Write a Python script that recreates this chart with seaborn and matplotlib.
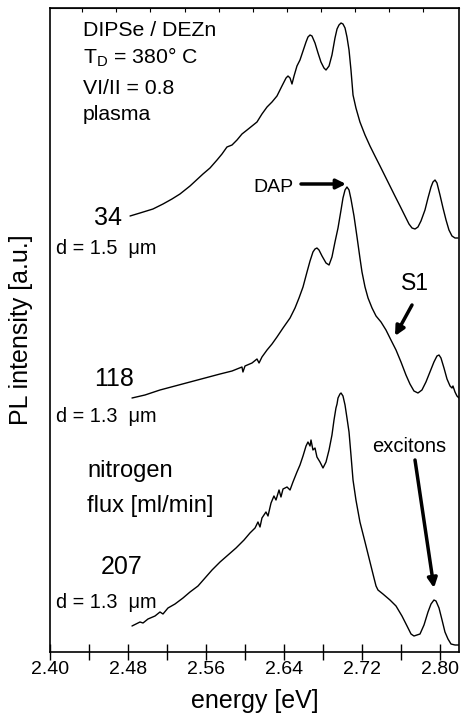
import numpy as np
import pandas as pd
import matplotlib
matplotlib.use("Agg")
import matplotlib.pyplot as plt
import seaborn as sns

sns.set_style("white")
plt.rcParams['font.family'] = ['Liberation Sans', 'DejaVu Sans']
plt.rcParams['mathtext.default'] = 'regular'
plt.rcParams['text.color'] = 'black'
plt.rcParams['axes.labelcolor'] = 'black'
plt.rcParams['xtick.color'] = 'black'

# ---- data (energy in eV, PL intensity in a.u. incl. vertical offset) ----
energy_34 = [2.4821, 2.4923, 2.5056, 2.5159, 2.5251, 2.5333, 2.5436, 2.5569, 2.5641, 2.5713,
             2.5764, 2.5815, 2.5867, 2.5918, 2.5969, 2.6021, 2.6072, 2.6123, 2.6174, 2.6226,
             2.6277, 2.6328, 2.6379, 2.6421, 2.6441, 2.6462, 2.6482, 2.6503, 2.6533, 2.6564,
             2.6595, 2.6626, 2.6646, 2.6667, 2.6687, 2.6718, 2.6749, 2.6779, 2.6810, 2.6831,
             2.6862, 2.6892, 2.6923, 2.6944, 2.6964, 2.6985, 2.7005, 2.7026, 2.7046, 2.7067,
             2.7087, 2.7108, 2.7138, 2.7179, 2.7231, 2.7282, 2.7333, 2.7385, 2.7436, 2.7487,
             2.7538, 2.7590, 2.7641, 2.7682, 2.7713, 2.7744, 2.7774, 2.7805, 2.7846, 2.7877,
             2.7908, 2.7928, 2.7949, 2.7969, 2.8000, 2.8031, 2.8062, 2.8092, 2.8123, 2.8154,
             2.8185]
pl_34 = [436, 439, 443, 448, 453, 458, 466, 478, 484, 492,
         498, 505, 507, 512, 518, 522, 526, 530, 538, 545,
         550, 556, 566, 574, 576, 574, 568, 576, 586, 592,
         601, 610, 615, 617, 616, 609, 599, 590, 584, 582,
         586, 597, 614, 623, 627, 629, 628, 624, 615, 602,
         582, 557, 544, 530, 517, 506, 496, 486, 476, 466,
         456, 446, 436, 428, 424, 423, 425, 431, 442, 454,
         465, 470, 472, 469, 457, 444, 432, 422, 416, 414,
         414]

energy_118 = [2.4841, 2.4974, 2.5128, 2.5282, 2.5436, 2.5590, 2.5744, 2.5867, 2.5969, 2.5979,
              2.6000, 2.6072, 2.6123, 2.6144, 2.6174, 2.6226, 2.6277, 2.6328, 2.6390, 2.6462,
              2.6513, 2.6554, 2.6595, 2.6636, 2.6667, 2.6697, 2.6718, 2.6738, 2.6759, 2.6790,
              2.6831, 2.6862, 2.6892, 2.6923, 2.6954, 2.6985, 2.7005, 2.7026, 2.7046, 2.7067,
              2.7087, 2.7118, 2.7149, 2.7179, 2.7200, 2.7231, 2.7262, 2.7303, 2.7344, 2.7395,
              2.7446, 2.7497, 2.7549, 2.7600, 2.7651, 2.7692, 2.7733, 2.7774, 2.7815, 2.7856,
              2.7897, 2.7938, 2.7969, 2.7990, 2.8010, 2.8041, 2.8072, 2.8103, 2.8123, 2.8133,
              2.8154, 2.8174, 2.8195]
pl_118 = [254, 257, 262, 266, 270, 274, 278, 281, 285, 280,
          286, 289, 293, 289, 295, 302, 308, 315, 324, 334,
          344, 354, 365, 380, 391, 400, 403, 404, 402, 396,
          389, 387, 395, 410, 424, 442, 454, 462, 465, 462,
          453, 436, 415, 394, 380, 365, 354, 344, 336, 330,
          322, 312, 302, 290, 277, 268, 261, 259, 262, 270,
          280, 290, 296, 297, 294, 284, 273, 266, 264, 266,
          260, 256, 254]

energy_207 = [2.4841, 2.4923, 2.4954, 2.5005, 2.5077, 2.5128, 2.5159, 2.5210, 2.5282, 2.5364,
              2.5436, 2.5518, 2.5590, 2.5662, 2.5744, 2.5826, 2.5908, 2.5990, 2.6051, 2.6103,
              2.6133, 2.6154, 2.6174, 2.6215, 2.6236, 2.6267, 2.6297, 2.6318, 2.6349, 2.6369,
              2.6390, 2.6431, 2.6462, 2.6492, 2.6533, 2.6564, 2.6595, 2.6626, 2.6646, 2.6667,
              2.6677, 2.6697, 2.6718, 2.6738, 2.6769, 2.6800, 2.6831, 2.6862, 2.6892, 2.6913,
              2.6933, 2.6944, 2.6954, 2.6974, 2.6985, 2.7005, 2.7026, 2.7046, 2.7067, 2.7087,
              2.7108, 2.7138, 2.7179, 2.7231, 2.7282, 2.7323, 2.7344, 2.7364, 2.7415, 2.7487,
              2.7549, 2.7610, 2.7662, 2.7703, 2.7733, 2.7764, 2.7795, 2.7836, 2.7877, 2.7908,
              2.7938, 2.7959, 2.7990, 2.8021, 2.8051, 2.8082, 2.8113, 2.8154, 2.8195]
pl_207 = [26, 30, 29, 33, 36, 40, 38, 44, 48, 54,
          60, 66, 74, 82, 90, 97, 104, 112, 119, 124,
          130, 125, 134, 140, 136, 149, 156, 152, 162, 155,
          163, 165, 162, 170, 180, 187, 196, 206, 210, 206,
          212, 202, 204, 195, 190, 184, 190, 202, 217, 232,
          244, 248, 254, 258, 259, 256, 247, 234, 220, 197,
          172, 152, 130, 110, 90, 74, 66, 62, 58, 52,
          46, 36, 26, 18, 16, 17, 18, 27, 40, 48,
          52, 51, 44, 32, 20, 13, 8, 7, 7]

spectra = pd.concat([
    pd.DataFrame({"energy": energy_34, "pl": pl_34, "flux": "34"}),
    pd.DataFrame({"energy": energy_118, "pl": pl_118, "flux": "118"}),
    pd.DataFrame({"energy": energy_207, "pl": pl_207, "flux": "207"}),
])

major_ticks = [2.40, 2.44, 2.48, 2.52, 2.56, 2.60, 2.64, 2.68, 2.72, 2.76, 2.80]
tick_labels = ["2.40", "", "2.48", "", "2.56", "", "2.64", "", "2.72", "", "2.80"]
top_ticks = [2.433, 2.468, 2.503, 2.538, 2.573, 2.608, 2.643, 2.678, 2.713, 2.748, 2.783]

# ---- figure ----
W, H = 472, 719
fig = plt.figure(figsize=(W / 100, H / 100), dpi=100)
L, R, T, B = 50, 459, 8, 652
ax = fig.add_axes([L / W, 1 - B / H, (R - L) / W, (B - T) / H])

sns.lineplot(data=spectra, x="energy", y="pl", units="flux", estimator=None,
             color="black", lw=1.0, ax=ax, legend=False, sort=False)

ax.set_xlim(2.40, 2.8195)
ax.set_ylim(0, 644)
ax.set_yticks([])
ax.set_xticks(major_ticks)
ax.set_xticklabels(tick_labels)
ax.tick_params(axis="x", direction="inout", length=11, width=1.0, pad=1,
               labelsize=14, color="black", labelcolor="black", bottom=True)
for s in ax.spines.values():
    s.set_color("black")
    s.set_linewidth(1.2)

sec = ax.secondary_xaxis("top")
sec.set_xticks(top_ticks)
sec.set_xticklabels([])
sec.tick_params(direction="in", length=3, width=0.8, color="black")

ax.set_xlabel("energy [eV]", fontsize=18, labelpad=8)
ax.set_ylabel("PL intensity [a.u.]", fontsize=18, labelpad=12)

def P(px, py):
    return ((px - L) / (R - L), (B - py) / (B - T))

def txt(px, py, s, size, **kw):
    x, y = P(px, py)
    ax.text(x, y, s, transform=ax.transAxes, fontsize=size, va="center", ha="left", **kw)

txt(83, 30, "DIPSe / DEZn", 15.3)
txt(83, 57, "T$_D$ = 380° C", 15.3)
txt(83, 89, "VI/II = 0.8", 15.3)
txt(83, 114, "plasma", 15.3)

txt(94, 218, "34", 18)
txt(56, 248, "d = 1.5  μm", 14.3)
txt(94, 379, "118", 18)
txt(56, 416, "d = 1.3  μm", 14.3)
txt(87, 471, "nitrogen", 17)
txt(87, 506, "flux [ml/min]", 17)
txt(101, 567, "207", 18)
txt(56, 602, "d = 1.3  μm", 14.3)

txt(253, 187, "DAP", 14)
txt(401, 284, "S1", 16.5)
txt(372, 447, "excitons", 14.5)

def arrow(p0, p1, lw=2.5, ms=14):
    ax.annotate("", xy=P(*p1), xytext=P(*p0), xycoords="axes fraction",
                textcoords="axes fraction",
                arrowprops=dict(arrowstyle="-|>", lw=lw, color="black",
                                mutation_scale=ms, shrinkA=0, shrinkB=0))

arrow((301, 184), (346, 184))
arrow((412, 305), (395, 336))
arrow((415, 460), (434, 588))

fig.savefig("out.png", dpi=100)
